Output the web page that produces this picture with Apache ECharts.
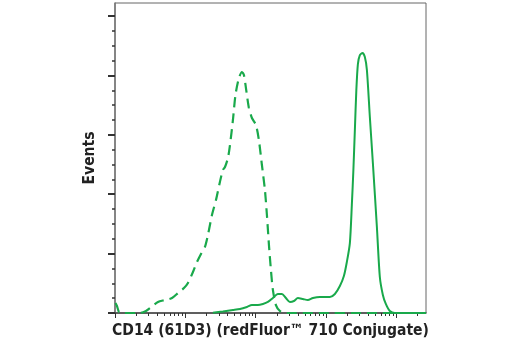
<!DOCTYPE html>
<html>
<head>
<meta charset="utf-8">
<script src="https://cdn.jsdelivr.net/npm/echarts@6/dist/echarts.min.js"></script>
<style>html,body{margin:0;padding:0;background:#fff}#c{width:520px;height:350px}</style>
</head>
<body>
<div id="c"></div>
<script>
// x values are in decades (log10 of fluorescence intensity); y values are event counts
var controlX = [0.007,0.028,0.057,0.099,0.355,0.440,0.497,0.611,0.710,0.810,0.895,0.980,1.037,1.108,1.165,1.222,1.278,1.321,1.378,1.435,1.491,1.534,1.563,1.605,1.634,1.676,1.712,1.761,1.804,1.832,1.861,1.903,1.946,2.003,2.045,2.088,2.131,2.159,2.188,2.216,2.244,2.287,2.344,2.415,4.42];
var controlY = [8.4,5.9,0.8,0,0,1.7,4.2,9.3,10.9,12.6,16.8,21.0,25.3,34.5,42.9,49.7,55.6,65.7,82.5,95.1,110.3,120.4,122.9,130.5,141.4,162.5,183.5,197.8,202.9,200.4,189.4,172.6,164.2,158.3,145.6,124.6,103.5,82.5,57.2,36.2,19.4,6.7,1.7,0,0];
var stainedX = [1.392,1.534,1.676,1.776,1.875,1.946,2.031,2.102,2.173,2.244,2.315,2.372,2.429,2.486,2.543,2.599,2.670,2.741,2.813,2.912,3.054,3.125,3.196,3.253,3.295,3.338,3.366,3.388,3.409,3.430,3.452,3.480,3.518,3.551,3.580,3.622,3.665,3.722,3.764,3.807,3.849,3.906,3.977,4.42];
var stainedY = [0.25,1.3,2.5,3.4,5.1,6.7,6.7,7.6,9.3,12.6,16.0,16.0,12.6,9.3,10.1,12.6,11.8,10.9,12.6,13.5,13.5,16.0,22.7,31.1,42.9,58.9,90.9,120.4,154.0,187.7,209.6,217.2,218.9,215.5,204.6,165.0,126.3,72.4,30.3,15.2,7.6,1.7,0,0];
var yMajorTicks = [0,50,100,150,200,250];
var yMinorTicks = [12.5,25,37.5,62.5,75,87.5,112.5,125,137.5,162.5,175,187.5,212.5,225,237.5];
var xDecades = [0,1,2,3,4];
var xMinorMultipliers = [2,3,4,5,6,7,8,9];
var xTitle = 'CD14 (61D3) (redFluor\u2122 710 Conjugate)';
var yTitle = 'Events';

var X_MAX = 4.42, Y_MAX = 261;
var xMinor = [];
xDecades.forEach(function(d){
  xMinorMultipliers.forEach(function(m){
    var v = d + Math.log10(m);
    if (v < X_MAX) xMinor.push(v);
  });
});
function pairs(xs, ys){ return xs.map(function(x,i){ return [x, ys[i]]; }); }

var chart = echarts.init(document.getElementById('c'), null, {renderer:'canvas'});
var font = '"Liberation Sans Narrow", "DejaVu Sans Condensed", Arial, sans-serif';
var green = '#19a94b';
chart.setOption({
  animation: false,
  grid: {left:115, right:94, top:3, bottom:37, show:true, borderColor:'#666', borderWidth:1, backgroundColor:'transparent'},
  xAxis: [
    {type:'value', min:0, max:X_MAX, position:'bottom',
     axisLine:{show:true, lineStyle:{color:'#444', width:1.5}},
     axisTick:{show:true, customValues:xDecades, length:5, inside:false, lineStyle:{color:'#333', width:1}},
     axisLabel:{show:false}, splitLine:{show:false},
     name:xTitle, nameLocation:'middle', nameGap:10,
     nameTextStyle:{fontFamily:font, fontWeight:'bold', fontSize:15.5, color:'#222', verticalAlign:'top'}},
    {type:'value', min:0, max:X_MAX, position:'bottom',
     axisLine:{show:false},
     axisTick:{show:true, customValues:xMinor, length:3, lineStyle:{color:'#333', width:1}},
     axisLabel:{show:false}, splitLine:{show:false}}
  ],
  yAxis: [
    {type:'value', min:0, max:Y_MAX, position:'left',
     axisLine:{show:true, lineStyle:{color:'#777', width:1.5}},
     axisTick:{show:true, customValues:yMajorTicks, length:7, lineStyle:{color:'#333', width:2}},
     axisLabel:{show:false}, splitLine:{show:false},
     name:yTitle, nameLocation:'middle', nameGap:17, nameRotate:90,
     nameTextStyle:{fontFamily:font, fontWeight:'bold', fontSize:15.5, color:'#222'}},
    {type:'value', min:0, max:Y_MAX, position:'left',
     axisLine:{show:false},
     axisTick:{show:true, customValues:yMinorTicks, length:3, lineStyle:{color:'#333', width:1.5}},
     axisLabel:{show:false}, splitLine:{show:false}}
  ],
  series: [
    {type:'line', xAxisIndex:0, yAxisIndex:0, data:pairs(controlX, controlY), showSymbol:false, smooth:0.25,
     lineStyle:{color:green, width:2.2, type:[10,6]}, z:3},
    {type:'line', xAxisIndex:0, yAxisIndex:0, data:pairs(stainedX, stainedY), showSymbol:false, smooth:0.25,
     lineStyle:{color:green, width:2}, z:4}
  ]
});
</script>
</body>
</html>
